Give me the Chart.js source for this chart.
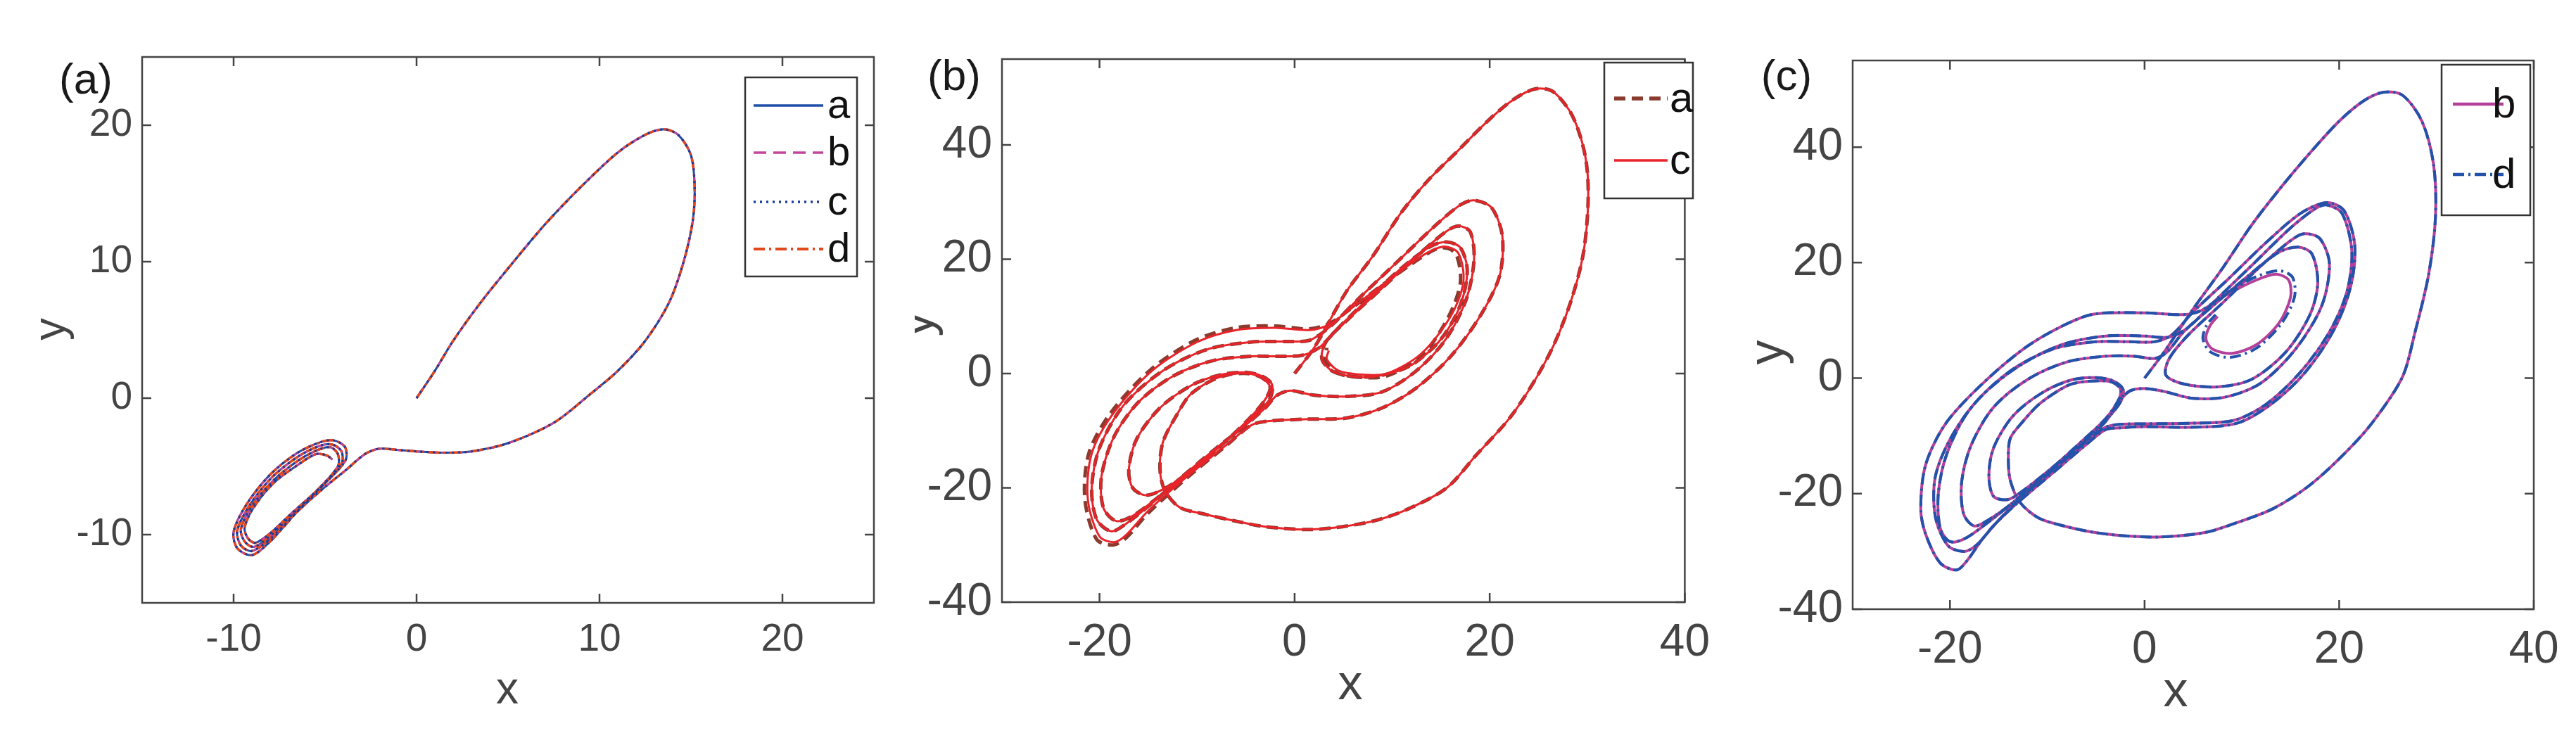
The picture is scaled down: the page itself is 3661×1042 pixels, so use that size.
<!DOCTYPE html>
<html><head><meta charset="utf-8">
<script src="https://cdn.jsdelivr.net/npm/chart.js@4/dist/chart.umd.min.js"></script>
<style>html,body{margin:0;padding:0;background:#fff;width:3661px;height:1042px;overflow:hidden}
.p{position:absolute;top:0;height:1042px}</style></head><body>
<div class="p" style="left:0;width:1300px"><canvas id="ca"></canvas></div>
<div class="p" style="left:1300px;width:1150px"><canvas id="cb"></canvas></div>
<div class="p" style="left:2450px;width:1211px"><canvas id="cc"></canvas></div>
<script>
// ---------- data ----------
const xTicksA=[-10,0,10,20], yTicksA=[-10,0,10,20];
const xTicksBC=[-20,0,20,40], yTicksBC=[-40,-20,0,20,40];
const labelsA=['a','b','c','d'], labelsB=['a','c'], labelsC=['b','d'];
const trajA=[[0,0],[1,2],[2,4.2],[3.5,7],[5,9.5],[7,12.7],[9,15.5],[11,18],[12.5,19.3],[13.5,19.7],[14.3,19.3],[15,17.8],[15.2,15.5],[15.1,13],[14.6,10],[13.8,7],[12.5,4.2],[11,2],[9.5,0.3],[7.5,-1.8],[5,-3.3],[3,-3.9],[1.5,-4],[0,-3.9],[-1,-3.8],[-2,-3.7],[-2.7,-4],[-3.3,-4.6],[-3.8,-5.2],
[-5,-6.5],[-6.5,-8.3],[-8,-10.5],[-9,-11.5],[-9.8,-11],[-10,-9.8],[-9.3,-7.8],[-8,-5.6],[-6.5,-4],[-5.2,-3.2],[-4.5,-3.1],[-3.9,-3.6],[-3.9,-4.6],
[-5.2,-6.5],[-6.6,-8.4],[-8,-10.3],[-9,-11.2],[-9.6,-10.8],[-9.8,-9.7],[-9.1,-7.8],[-7.9,-5.8],[-6.5,-4.3],[-5.3,-3.5],[-4.6,-3.4],[-4.1,-3.9],[-4.1,-4.8],
[-5.3,-6.6],[-6.7,-8.4],[-8,-10.1],[-8.9,-10.9],[-9.4,-10.5],[-9.6,-9.6],[-9,-7.9],[-7.8,-6],[-6.5,-4.6],[-5.4,-3.8],[-4.7,-3.6],[-4.3,-4.1],[-4.3,-5],
[-5.4,-6.7],[-6.8,-8.4],[-8,-9.9],[-8.8,-10.6],[-9.2,-10.3],[-9.4,-9.5],[-8.9,-8],[-7.8,-6.2],[-6.5,-4.9],[-5.5,-4.1],[-4.9,-4.2],[-4.6,-4.5]];
const commonB=[[0,0],[2,4.5],[5.3,14.3],[8,20.5],[11,28.3],[13.8,34],[16.7,38.9],[20,44.5],[22.5,48],[24.7,49.8],[26.5,49.3],[28.5,45],[29.8,38],[30.1,30.7],[29.6,21],[28.2,12],[26,3],[22.4,-7],[18.5,-14.5],[15.6,-20],[11.5,-23.8],[8.1,-25.8],[4,-27],[1,-27.3],[-3,-26.8],[-6.1,-25.8],[-9.5,-24.5],[-11.8,-23.4],[-13.3,-20.5],[-13.8,-16.8],[-13.5,-12],[-12,-7],[-10.7,-3.7],[-8.5,-1.2],[-6.7,-0.2],[-4.8,0],[-3.3,-0.8],[-2.5,-2.5],[-3.2,-5],[-5,-8.5],[-7.5,-12.5],[-10.5,-16.8],[-13,-19.8],[-15.2,-21.3],[-16.6,-20],[-17,-16.8],[-16.2,-11.5],[-13.8,-6],[-10.5,-2],[-7.5,-0.2],[-5,0.2],[-3.3,-0.5],[-2.3,-2],[-2.6,-4.6],[-4.5,-8],[-7.5,-12.5],[-10.5,-17],[-13.5,-21],[-16.5,-24.8],[-18.3,-25.8],[-19.6,-23.5],[-19.8,-18],[-18.5,-11],[-16,-5],[-12.5,-0.5],[-8.5,2.2],[-4.5,3],[-1.5,3],[0.8,3.2],[2.5,4.5],[4.5,8],[7.5,13],[11,18.5],[14,22.3],[15.6,23],[17,22],[17.7,18],[17,12],[15,6],[12,1.5],[9,-0.3],[6.5,-0.6],[4,0.3],[2.8,2.5],[3.2,5.5],[5.5,9.5],[9,15],[12.5,20.5],[15.5,24.8],[16.8,25.8],[18,24.8],[18.4,20],[17.6,13],[15.5,6],[12.5,0.5],[9,-3.2],[5.5,-4],[2,-3.8],[-0.4,-3],[-1.8,-3.8],[-3,-6],[-5,-9],[-8,-13],[-11.5,-18],[-14.5,-22.5],[-17.3,-26.3],[-18.8,-27.6],[-20.3,-25.5],[-20.8,-20],[-20,-13],[-17.5,-5.5],[-13.5,0.5],[-9,4.2],[-4.5,5.5],[-1,5.6],[1.5,5.8],[3.5,8],[6.5,13],[10.5,19.5],[14.5,26],[17,29.5],[18.4,30.3],[20.2,29],[21.3,24],[21,17],[19,10],[16,3],[12.5,-2.5],[9,-6],[5.3,-7.8],[1,-8],[-2.5,-8.3],[-4.4,-9]];
const tailBa=[[-7,-12.6],[-11,-18.2],[-15,-24.4],[-17.3,-28.8],[-18.6,-30],[-20.3,-29],[-21.5,-22],[-21.1,-14],[-18.9,-7],[-14.8,0.6],[-10.2,5.8],[-6,8],[-2,8.3],[1.5,7.8],[3.6,8.8],[5.5,11],[9,15.5],[13,20.3],[15,22],[16.5,21],[17,16],[15.8,10],[13,3],[9.5,-0.4],[7,-0.7],[4.5,0],[3.2,2.2],[3.3,4.5]];
const tailBc=[[-7,-12.5],[-11,-18],[-15,-24],[-17.3,-28.3],[-18.5,-29.5],[-20,-28.5],[-21.2,-22],[-20.8,-14],[-18.6,-7],[-14.6,0.5],[-10,5.5],[-6,7.6],[-2,8],[1.5,7.6],[3.6,8.6],[5.5,11],[9,15.5],[13,20.5],[15.3,22.2],[16.8,21],[17.3,16],[16,10],[13,3.5],[9.5,0],[7,-0.2],[4.5,0.5],[3.3,2.5],[3.5,4]];
const commonC=[[0,0],[2,4.5],[5,12],[8,19],[11,26.5],[14,33],[17,39],[20,44.5],[22.5,48],[24.5,49.5],[26.5,49],[28.5,44.5],[29.7,37],[29.9,28],[29.2,18],[27.8,8],[26.5,0.2],[23.5,-7.5],[20.7,-12.8],[17,-18.5],[13.2,-22.6],[9.5,-25],[6.3,-26.7],[1.7,-27.5],[-2,-27.3],[-5.2,-26.7],[-8.5,-25.5],[-10.9,-24.2],[-12.8,-21.5],[-13.8,-17.7],[-14,-14],[-13.8,-10.4],[-12.5,-7.5],[-10.9,-4.6],[-9,-2.3],[-7.5,-1],[-5.5,-0.5],[-3.5,-0.6],[-2.5,-1.8],[-2.6,-3.5],[-4,-7],[-6.5,-11],[-9.5,-15.5],[-12.5,-19.5],[-14,-21],[-15.5,-20.5],[-16,-17],[-15.5,-12],[-13.5,-6.5],[-10.5,-2.5],[-7.5,-0.3],[-5,0.1],[-3.2,-0.5],[-2.2,-2],[-2.5,-4.2],[-4,-7.3],[-7,-12],[-10.5,-17],[-13.5,-21.5],[-16,-24.5],[-17.5,-25.6],[-18.6,-23.5],[-18.8,-18],[-17.8,-11.5],[-15.5,-5],[-12,-0.2],[-8,2.8],[-4,3.8],[-1,3.8],[1,3.4],[2.3,4.5],[4,8],[7,12.5],[10.5,17.5],[13.8,21.8],[15.8,22.7],[17.2,21.5],[17.8,16.5],[17,11],[14.5,4.5],[11,-0.2],[7.5,-1.5],[4,-1],[2.2,0.5],[2.5,3.3],[4.5,7.5],[8,13],[12,19.5],[15,23.8],[16.4,25],[18,24.2],[19,19.8],[18.2,12.5],[15.5,5],[12,-0.8],[8.5,-3.2],[5,-3.5],[2,-2.3],[0,-1.8],[-1.5,-2.2],[-2.6,-4],[-4,-7.5],[-6.5,-11.5],[-10,-16.5],[-13.5,-21.5],[-16.5,-25.5],[-18.5,-27.8],[-20,-28.3],[-21,-26],[-21.2,-20],[-20.3,-13],[-18,-5.5],[-14,1],[-9.5,5],[-5,6.3],[-1.5,6.3],[1,6.3],[2.8,7.5],[5,11.5],[8.5,17],[12.5,23.5],[16,28.5],[18.7,30.4],[20.5,29],[21.6,23],[21.2,16],[19.5,8.5],[16.5,1],[13,-4.5],[9.5,-7.8],[5,-8.5],[0,-8.4],[-2.5,-8.6],[-4,-8.9],[-6,-11.5],[-9.5,-16.5],[-13,-21.5],[-15.5,-25.5],[-17.2,-28.8],[-18.5,-30],[-20.2,-29],[-21.5,-24],[-21.5,-17],[-19.8,-10],[-17,-3.5],[-13,2],[-8.5,5.8],[-4,7.3],[0,7.3],[2.5,7.1],[4.5,8.8],[7,13],[11,19.5],[15,26],[17.5,29.3],[18.7,30],[20.3,28.5],[21.3,22],[20.8,15],[19,8],[16,1],[12.5,-4.5],[9.2,-7.3],[5,-7.8],[0,-7.9],[-2.5,-8],[-4,-8.5],[-6,-11],[-9.5,-16],[-13.5,-22],[-16.5,-27.5],[-18.2,-31.5],[-19.3,-33.2],[-21,-32],[-22.5,-27],[-23,-22.6],[-22.5,-15],[-20.5,-8],[-17,-1.5],[-12.5,5],[-8.5,9],[-5.2,11.1],[0,11.3],[4,11],[5.8,11.7]];
const tailCb=[[8.5,14.5],[11.5,17],[13.5,18],[14.8,17],[15,14],[13.8,9.5],[11.5,5.8],[9,4.3],[7,5],[6.3,6.8],[6.7,9],[7.5,10.7]];
const tailCd=[[8.5,14.8],[11.5,17.6],[13.8,18.6],[15.2,17.5],[15.4,14],[14,9.3],[11.5,5.2],[8.8,3.6],[6.8,4.5],[6,6.8],[6.4,9.2],[7.3,11]];

// ---------- helpers ----------
const pts=a=>a.map(p=>({x:p[0],y:p[1]}));
const ds=(label,data,color,width,dash,order)=>({label,data:pts(data),borderColor:color,borderWidth:width,borderDash:dash,order,showLine:true,pointRadius:0,tension:0.3,fill:false});
function decor(cfg){return{id:'decor',afterDraw(ch){const c=ch.ctx,a=ch.chartArea;c.save();
 c.strokeStyle='#444';c.lineWidth=2.5;c.setLineDash([]);
 c.strokeRect(a.left,a.top,a.right-a.left,a.bottom-a.top);
 const L=13;
 ch.scales.x.ticks.forEach(t=>{const px=ch.scales.x.getPixelForValue(t.value);c.beginPath();c.moveTo(px,a.bottom);c.lineTo(px,a.bottom-L);c.moveTo(px,a.top);c.lineTo(px,a.top+L);c.stroke();});
 ch.scales.y.ticks.forEach(t=>{const py=ch.scales.y.getPixelForValue(t.value);c.beginPath();c.moveTo(a.left,py);c.lineTo(a.left+L,py);c.moveTo(a.right,py);c.lineTo(a.right-L,py);c.stroke();});
 c.fillStyle='#444';c.font=cfg.titleFont;c.textAlign='center';c.textBaseline='middle';
 c.fillText('x',cfg.xt[0],cfg.xt[1]);
 c.save();c.translate(cfg.yt[0],cfg.yt[1]);c.rotate(-Math.PI/2);c.fillText('y',0,0);c.restore();
 c.fillStyle='#1a1a1a';c.font=cfg.panelFont;c.fillText(cfg.panel,cfg.pl[0],cfg.pl[1]);
 const lg=cfg.legend;c.fillStyle='#fff';c.fillRect(lg.box[0],lg.box[1],lg.box[2],lg.box[3]);
 c.strokeStyle='#333';c.lineWidth=2.5;c.strokeRect(lg.box[0],lg.box[1],lg.box[2],lg.box[3]);
 ch.data.datasets.forEach((d,i)=>{const y=lg.rows[i];c.strokeStyle=d.borderColor;c.lineWidth=d.borderWidth+0.5;c.setLineDash(d.borderDash||[]);
  c.beginPath();c.moveTo(lg.line[0],y);c.lineTo(lg.line[1],y);c.stroke();c.setLineDash([]);
  c.fillStyle='#111';c.font=lg.font;c.textAlign='left';c.fillText(d.label,lg.tx,y+2);});
 c.restore();}}}
function make(id,datasets,xr,yr,xt,yt,pad,yw,xh,fs,cfg){
 return new Chart(document.getElementById(id),{type:'scatter',data:{datasets},
 options:{responsive:true,maintainAspectRatio:false,animation:false,
 layout:{padding:{top:pad[0],right:pad[1],left:0,bottom:0}},
 plugins:{legend:{display:false},tooltip:{enabled:false}},
 scales:{
  x:{type:'linear',min:xr[0],max:xr[1],afterBuildTicks:s=>{s.ticks=xt.map(v=>({value:v}));},afterFit:s=>{s.height=xh;},
     grid:{display:true,drawOnChartArea:false,drawTicks:false},border:{display:false},
     ticks:{color:'#444',font:{family:'Liberation Sans, Arial',size:fs},padding:20,maxRotation:0,autoSkip:false}},
  y:{type:'linear',min:yr[0],max:yr[1],afterBuildTicks:s=>{s.ticks=yt.map(v=>({value:v}));},afterFit:s=>{s.width=yw;},
     grid:{display:true,drawOnChartArea:false,drawTicks:false},border:{display:false},
     ticks:{color:'#444',font:{family:'Liberation Sans, Arial',size:fs},padding:14,autoSkip:false}}}},
 plugins:[decor(cfg)]});}

make('ca',[ds(labelsA[0],trajA,'#1f4fa8',3,[],3),ds(labelsA[1],trajA,'#c2459c',3,[18,10],2),ds(labelsA[2],trajA,'#1a3a9a',3,[3,6],0),ds(labelsA[3],trajA,'#e2461d',3.5,[16,6,3,6],1)],
 [-15,25],[-15,25],xTicksA,yTicksA,[81,58],202,185,55,
 {xt:[721,982],yt:[74,468],titleFont:'64px Liberation Sans, Arial',panel:'(a)',pl:[122,116],panelFont:'62px Liberation Sans, Arial',
  legend:{box:[1059,110,159,283],rows:[150,217,287,354],line:[1071,1170],tx:1176,font:'58px Liberation Sans, Arial'}});
make('cb',[ds(labelsB[0],commonB.concat(tailBa),'#8b3a2e',5,[16,9],1),ds(labelsB[1],commonB.concat(tailBc),'#e8232a',3,[],0)],
 [-30,40],[-40,55],xTicksBC,yTicksBC,[84,40],124,186,64,
 {xt:[619,975],yt:[6,461],titleFont:'70px Liberation Sans, Arial',panel:'(b)',pl:[56,111],panelFont:'62px Liberation Sans, Arial',
  legend:{box:[980,89,126,193],rows:[140,228],line:[994,1070],tx:1073,font:'60px Liberation Sans, Arial'}});
make('cc',[ds(labelsC[0],commonC.concat(tailCb),'#b5409a',4,[],1),ds(labelsC[1],commonC.concat(tailCd),'#2252aa',4,[16,6,3,6],0)],
 [-30,40],[-40,55],xTicksBC,yTicksBC,[86,60],183,176,64,
 {xt:[642,985],yt:[65,501],titleFont:'70px Liberation Sans, Arial',panel:'(c)',pl:[89,111],panelFont:'62px Liberation Sans, Arial',
  legend:{box:[1020,92,126,214],rows:[148,248],line:[1036,1108],tx:1092,font:'60px Liberation Sans, Arial'}});
</script></body></html>
